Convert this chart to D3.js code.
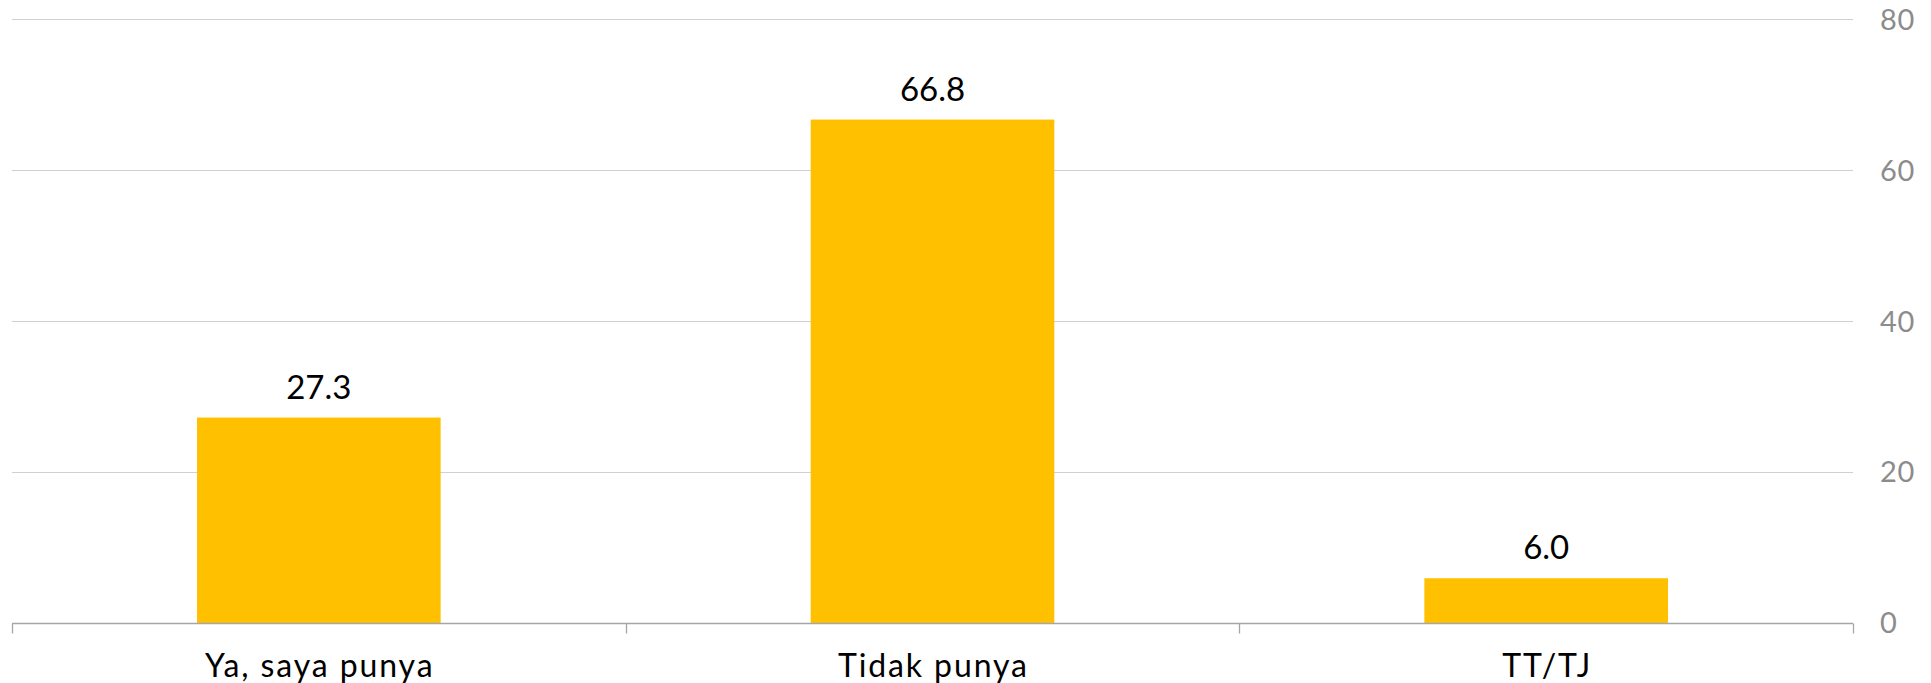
<!DOCTYPE html>
<html>
<head>
<meta charset="utf-8">
<script src="https://cdn.jsdelivr.net/npm/d3@7"></script>
<style>
  html, body { margin: 0; padding: 0; background: #ffffff; }
  svg { display: block; }
  text { font-family: Lato, "Noto Sans", sans-serif; font-weight: 400; }
</style>
</head>
<body>
<svg id="chart" width="1931" height="683"></svg>
<script>
// Survey answers and their percentages
const categories = ["Ya, saya punya", "Tidak punya", "TT/TJ"];
const values = [27.3, 66.8, 6.0];
const yTicks = [0, 20, 40, 60, 80];

const plotLeft = 12, plotRight = 1853, plotTop = 20, plotBottom = 623.5;

const svg = d3.select("#chart");

const x = d3.scaleBand()
  .domain(categories)
  .range([plotLeft, plotRight])
  .paddingInner(0.603)
  .paddingOuter(0.3015);

const y = d3.scaleLinear().domain([0, 80]).range([plotBottom, plotTop]);

const crisp = v => Math.round(v) + 0.5;

// Horizontal gridlines (except the baseline)
svg.append("g")
  .selectAll("line")
  .data(yTicks.filter(t => t !== 0))
  .join("line")
  .attr("x1", plotLeft)
  .attr("x2", plotRight)
  .attr("y1", d => crisp(y(d)) - 1)
  .attr("y2", d => crisp(y(d)) - 1)
  .attr("stroke", "#d0d0d0")
  .attr("stroke-width", 1);

// Bars
svg.append("g")
  .selectAll("rect")
  .data(values)
  .join("rect")
  .attr("x", (d, i) => x(categories[i]))
  .attr("width", x.bandwidth())
  .attr("y", d => y(d))
  .attr("height", d => y(0) - y(d))
  .attr("fill", "#FFC000");

// Baseline and category separators
const base = crisp(y(0)) - 1;
svg.append("line")
  .attr("x1", plotLeft).attr("x2", plotRight)
  .attr("y1", base).attr("y2", base)
  .attr("stroke", "#a6a6a6").attr("stroke-width", 1.3);

const sepX = d3.range(categories.length + 1).map(i => x.range()[0] + i * x.step());
svg.append("g")
  .selectAll("line")
  .data(sepX)
  .join("line")
  .attr("x1", d => crisp(d)).attr("x2", d => crisp(d))
  .attr("y1", base).attr("y2", base + 10)
  .attr("stroke", "#a6a6a6").attr("stroke-width", 1.3);

// Right-hand value axis labels
const yAxis = svg.append("g")
  .attr("transform", `translate(${plotRight},0)`)
  .call(d3.axisRight(y).tickValues(yTicks).tickSize(0).tickPadding(27));
yAxis.select(".domain").remove();
yAxis.selectAll("text")
  .attr("fill", "#8c8c8c")
  .style("font-size", "29px")
  .style("font-weight", "400")
  .style("letter-spacing", "0.6px")
  .style("font-family", "Lato, 'Noto Sans', sans-serif");

// Category labels
const catSpacing = 1.9;
svg.append("g")
  .selectAll("text")
  .data(categories)
  .join("text")
  .attr("x", d => x(d) + x.bandwidth() / 2 + catSpacing / 2)
  .attr("y", 677)
  .attr("text-anchor", "middle")
  .attr("fill", "#000000")
  .style("font-size", "32px")
  .style("letter-spacing", catSpacing + "px")
  .text(d => d);

// Value labels above bars
svg.append("g")
  .selectAll("text")
  .data(values)
  .join("text")
  .attr("x", (d, i) => x(categories[i]) + x.bandwidth() / 2)
  .attr("y", d => y(d) - 19)
  .attr("text-anchor", "middle")
  .attr("fill", "#000000")
  .style("font-size", "33px")
  .text(d => d.toFixed(1));
</script>
</body>
</html>
